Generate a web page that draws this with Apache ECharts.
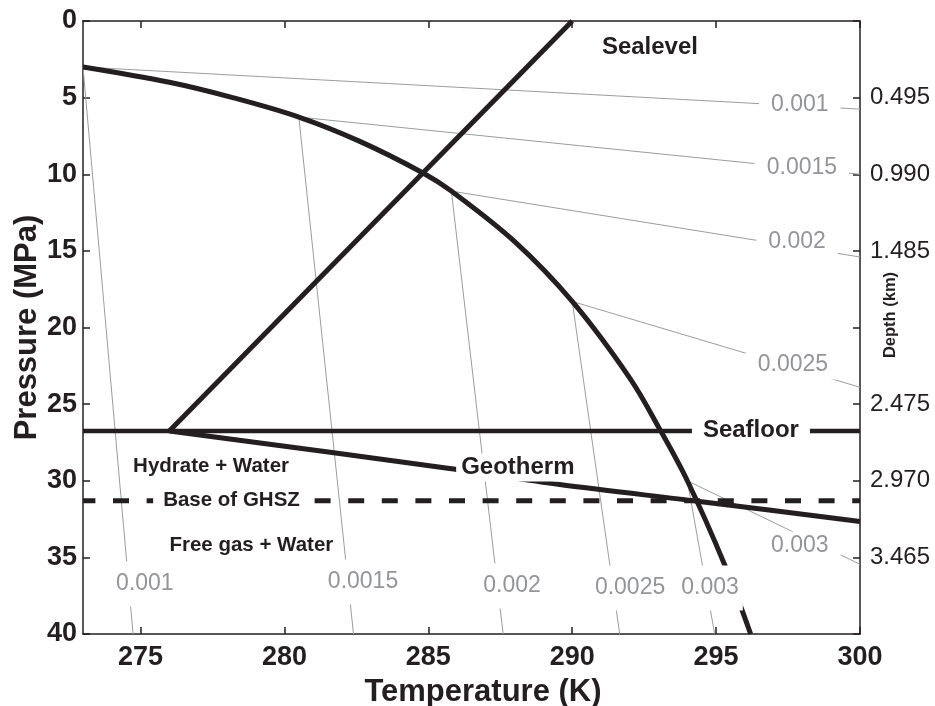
<!DOCTYPE html>
<html>
<head>
<meta charset="utf-8">
<title>Hydrate stability: pressure vs temperature</title>
<script src="https://cdn.jsdelivr.net/npm/echarts@6/dist/echarts.min.js"></script>
<style>
  html, body { margin: 0; padding: 0; background: #fff; }
  #chart { width: 935px; height: 706px; }
</style>
</head>
<body>
<div id="chart"></div>
<script>
// ---- data ---------------------------------------------------------------
// Temperature ticks (K)
const tempTicks = [275, 280, 285, 290, 295, 300];
// Right axis: depth (km) written at the pressure (MPa) it corresponds to
const depthTicks = [5, 10, 15, 25, 30, 35];
const depthLabels = ['0.495', '0.990', '1.485', '2.475', '2.970', '3.465'];

// Hydrate phase boundary
const boundaryT = [273.0, 276.0, 278.2, 280.5, 282.6, 284.8, 285.8, 288.0, 290.0, 292.0, 293.0, 294.0, 295.3, 296.2];
const boundaryP = [3.0, 4.0, 5.0, 6.27, 7.84, 9.9, 11.1, 14.4, 18.3, 23.3, 26.5, 30.0, 35.5, 40.0];

// Water-column temperature profile, sea level down to the seafloor
const sealevelT = [276.0, 290.0];
const sealevelP = [26.75, 0.0];

// Seafloor and base of the gas hydrate stability zone (MPa)
const seafloorP = 26.75;
const ghszBaseP = 31.3;

// Geotherm below the seafloor
const geothermT = [276.0, 285.74, 289.56, 294.42, 300.0];
const geothermP = [26.75, 29.2, 30.25, 31.35, 32.66];

// Isolines, each starting on the phase boundary
const isoValues = ['0.001', '0.0015', '0.002', '0.0025', '0.003'];
const isoStartT = [273.0, 280.5, 285.8, 290.0, 294.0];
const isoStartP = [3.0, 6.27, 11.1, 18.3, 30.0];
const isoRightP = [5.75, 10.0, 15.4, 23.9, 35.45];        // where each meets T = 300 K
const isoBottomT = [274.74, 282.4, 287.6, 291.65, 294.95]; // where each meets P = 40 MPa

// ---- label placement (data coordinates) ----------------------------------
const isoRightLabelAt = [[297.91, 5.48], [297.98, 9.59], [297.81, 14.42], [297.67, 22.45], [297.91, 34.26]];
const isoBottomLabelAt = [[275.15, 36.74], [282.73, 36.61], [287.91, 36.87], [292.01, 37.0], [294.79, 37.0]];
const regionNotes = [
  { text: 'Sealevel', at: [292.70, 1.70], size: 24, box: false },
  { text: 'Seafloor', at: [296.21, 26.72], size: 24, box: true, pad: [2, 11] },
  { text: 'Geotherm', at: [288.11, 29.13], size: 24, box: true, pad: [2, 5] },
  { text: 'Hydrate + Water', at: [277.45, 29.04], size: 20.5, box: false },
  { text: 'Base of GHSZ', at: [278.16, 31.3], size: 20.5, box: true, pad: [2, 10] },
  { text: 'Free gas + Water', at: [278.85, 34.19], size: 20.5, box: false }
];

// ---- style ---------------------------------------------------------------
const FONT = '"Liberation Sans", Arial, Helvetica, sans-serif';
const INK = '#231f20';
const GREY_LINE = '#9a9c9f';
const GREY_TEXT = '#939598';
const T_MIN = 273, T_MAX = 300, P_MIN = 0, P_MAX = 40;

const pairs = (xs, ys) => xs.map((x, i) => [x, ys[i]]);

function lineSeries(data, style, z, extra) {
  return Object.assign({
    type: 'line', data: data, symbol: 'none', showSymbol: false, silent: true,
    animation: false, z: z, lineStyle: style, clip: true
  }, extra || {});
}

const series = [];

// grey isolines
isoValues.forEach((v, i) => {
  series.push(lineSeries([[isoStartT[i], isoStartP[i]], [T_MAX, isoRightP[i]]],
    { color: GREY_LINE, width: 1 }, 2));
  series.push(lineSeries([[isoStartT[i], isoStartP[i]], [isoBottomT[i], P_MAX]],
    { color: GREY_LINE, width: 1 }, 2));
});

// heavy lines
series.push(lineSeries(pairs(boundaryT, boundaryP), { color: INK, width: 5 }, 4, { smooth: 0.35 }));
series.push(lineSeries(pairs(sealevelT, sealevelP), { color: INK, width: 5 }, 4));
series.push(lineSeries([[T_MIN, seafloorP], [T_MAX, seafloorP]], { color: INK, width: 4.5 }, 4));
series.push(lineSeries(pairs(geothermT, geothermP), { color: INK, width: 5 }, 4, { smooth: 0.3 }));
series.push(lineSeries([[T_MIN, ghszBaseP], [T_MAX, ghszBaseP]],
  { color: INK, width: 5, type: [16, 17.6], dashOffset: 3.6, cap: 'butt' }, 4));

function labelSeries(items, labelStyle) {
  return {
    type: 'scatter', z: 10, silent: true, animation: false,
    symbol: 'circle', symbolSize: 1, itemStyle: { color: 'rgba(0,0,0,0)', opacity: 1 },
    data: items,
    label: Object.assign({ show: true, position: 'inside', formatter: '{b}', opacity: 1 }, labelStyle)
  };
}

// isoline values
series.push(labelSeries(
  isoValues.map((v, i) => ({ name: v, value: isoRightLabelAt[i] })),
  { color: GREY_TEXT, fontFamily: FONT, fontSize: 23, backgroundColor: '#fff', padding: [3, 12] }));
series.push(labelSeries(
  isoValues.map((v, i) => ({ name: v, value: isoBottomLabelAt[i] })),
  { color: GREY_TEXT, fontFamily: FONT, fontSize: 23, backgroundColor: '#fff', padding: [11, 4] }));

// region notes
series.push(labelSeries(
  regionNotes.map(n => ({
    name: n.text, value: n.at,
    label: {
      fontSize: n.size,
      backgroundColor: n.box ? '#fff' : 'transparent',
      padding: n.box ? n.pad : 0
    }
  })),
  { color: INK, fontFamily: FONT, fontWeight: 'bold' }));

const axisLineStyle = { show: true, onZero: false, lineStyle: { color: INK, width: 1.5 } };
const tickStyle = { color: INK, width: 1.5 };

const option = {
  animation: false,
  backgroundColor: '#fff',
  grid: { left: 83, right: 75, top: 21, bottom: 72, containLabel: false, outerBoundsMode: 'none' },
  xAxis: [
    {
      type: 'value', position: 'bottom', min: T_MIN, max: T_MAX,
      axisLine: axisLineStyle,
      axisTick: { show: true, inside: true, length: 7, customValues: tempTicks, lineStyle: tickStyle },
      axisLabel: { customValues: tempTicks, margin: 10, color: INK, fontFamily: FONT, fontWeight: 'bold', fontSize: 27 },
      splitLine: { show: false },
      name: 'Temperature (K)', nameLocation: 'middle', nameGap: 43, nameMoveOverlap: false,
      nameTextStyle: { color: INK, fontFamily: FONT, fontWeight: 'bold', fontSize: 31, padding: [0, 0, 0, 23] }
    },
    {
      type: 'value', position: 'top', min: T_MIN, max: T_MAX,
      axisLine: axisLineStyle,
      axisTick: { show: true, inside: true, length: 7, customValues: tempTicks, lineStyle: tickStyle },
      axisLabel: { show: false },
      splitLine: { show: false }
    }
  ],
  yAxis: [
    {
      type: 'value', position: 'left', inverse: true, min: P_MIN, max: P_MAX, interval: 5,
      axisLine: axisLineStyle,
      axisTick: { show: true, inside: true, length: 7, lineStyle: tickStyle },
      axisLabel: { margin: 6, color: INK, fontFamily: FONT, fontWeight: 'bold', fontSize: 27 },
      splitLine: { show: false },
      name: 'Pressure (MPa)', nameLocation: 'middle', nameRotate: 90, nameGap: 40.5, nameMoveOverlap: false,
      nameTextStyle: { color: INK, fontFamily: FONT, fontWeight: 'bold', fontSize: 31 }
    },
    {
      type: 'value', position: 'right', inverse: true, min: P_MIN, max: P_MAX, interval: 5,
      axisLine: axisLineStyle,
      axisTick: { show: true, inside: true, length: 7, lineStyle: tickStyle },
      axisLabel: {
        customValues: depthTicks, margin: 10, color: INK, fontFamily: FONT, fontSize: 24,
        formatter: v => depthLabels[depthTicks.indexOf(v)] || ''
      },
      splitLine: { show: false }
    }
  ],
  graphic: [
    {
      type: 'text', x: 890, y: 315, rotation: Math.PI / 2, silent: true,
      style: { text: 'Depth (km)', fill: INK, font: 'bold 16.5px ' + FONT, align: 'center', verticalAlign: 'middle' }
    }
  ],
  series: series
};

const chart = echarts.init(document.getElementById('chart'), null, { renderer: 'canvas' });
chart.setOption(option);
</script>
</body>
</html>
